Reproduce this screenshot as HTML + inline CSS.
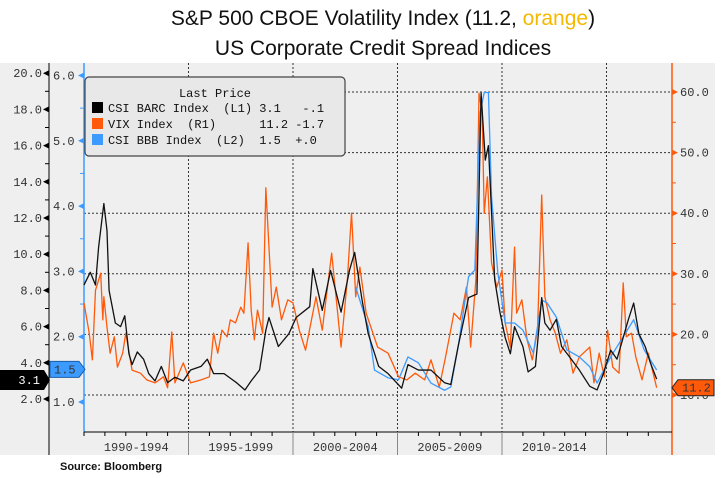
<!DOCTYPE html>
<html><head><meta charset="utf-8"><style>
body{margin:0;background:#fff;width:721px;height:478px;overflow:hidden;font-family:"Liberation Sans",sans-serif}
svg{display:block}
.ax{font-family:"Liberation Mono",monospace;font-size:12px;fill:#333}
.lg{font-family:"Liberation Mono",monospace;font-size:12px;fill:#111}
</style></head><body>
<svg id="chart" width="721" height="478">
<text x="383" y="25" text-anchor="middle" font-size="21" fill="#111">S&amp;P 500 CBOE Volatility Index (11.2, <tspan fill="#f5b800">orange</tspan>)</text>
<text x="383" y="55" text-anchor="middle" font-size="21" fill="#111">US Corporate Credit Spread Indices</text>
<rect x="0" y="63" width="715" height="392" fill="#efefef"/>
<g id="grid"></g>
<g id="axes"></g>
<g id="series"></g>
<g id="legend">
<rect x="85" y="77" width="260" height="79" rx="4" fill="#e8e8e8" stroke="#444" stroke-width="1.2"/>
<text x="215" y="97" text-anchor="middle" class="lg">Last Price</text>
<rect x="92" y="102" width="11" height="11" fill="#000"/>
<text x="108" y="112" class="lg" xml:space="preserve">CSI BARC Index  (L1) 3.1   -.1</text>
<rect x="92" y="118" width="11" height="11" fill="#ff5a0a"/>
<text x="108" y="128" class="lg" xml:space="preserve">VIX Index  (R1)      11.2 -1.7</text>
<rect x="92" y="134" width="11" height="11" fill="#3d9bff"/>
<text x="108" y="144" class="lg" xml:space="preserve">CSI BBB Index  (L2)  1.5  +.0</text>
</g>
<text x="60" y="470" font-size="11" font-weight="bold" fill="#111">Source: Bloomberg</text>
</svg>
<script>
const barcT=[1990.0,1990.3,1990.55,1990.7,1990.95,1991.1,1991.2,1991.5,1991.75,1991.95,1992.15,1992.3,1992.55,1992.85,1993.1,1993.4,1993.7,1994.0,1994.35,1994.75,1995.1,1995.6,1995.9,1996.2,1996.7,1997.3,1997.7,1998.0,1998.4,1998.7,1998.85,1999.3,1999.8,2000.15,2000.8,2000.95,2001.4,2001.8,2002.3,2002.7,2002.95,2003.3,2003.6,2004.1,2004.55,2005.2,2005.5,2006.0,2006.6,2007.25,2007.55,2007.9,2008.4,2008.8,2009.0,2009.2,2009.35,2009.5,2009.65,2009.9,2010.15,2010.4,2010.6,2011.0,2011.25,2011.6,2011.9,2012.05,2012.3,2012.6,2012.85,2013.25,2013.7,2014.2,2014.55,2014.85,2015.2,2015.5,2015.8,2016.05,2016.3,2016.55,2016.85,2017.1,2017.4];
const barcV=[8.3,9.0,8.3,10.4,12.8,11.3,8.0,6.2,6.0,6.6,4.5,3.9,4.6,4.2,3.4,3.0,3.8,2.9,3.2,3.0,3.6,3.8,4.2,3.4,3.4,2.9,2.5,3.0,3.6,5.8,6.5,4.9,5.6,6.5,7.1,9.2,6.9,9.1,6.8,9.1,10.1,7.5,5.6,3.8,3.4,2.6,3.9,3.6,3.6,2.9,2.8,4.9,7.6,7.8,18.9,15.2,16.0,12.3,8.6,6.8,5.4,4.5,6.0,4.9,3.5,3.8,7.6,6.2,5.8,6.4,4.9,4.3,3.6,2.7,2.5,3.4,4.7,4.2,5.4,6.4,7.3,5.6,4.9,4.0,3.1];
const vixT=[1990.0,1990.25,1990.4,1990.55,1990.8,1990.9,1990.95,1991.1,1991.25,1991.45,1991.6,1991.85,1992.0,1992.3,1992.7,1993.0,1993.4,1993.8,1994.0,1994.2,1994.35,1994.75,1995.1,1995.6,1996.0,1996.2,1996.4,1996.6,1996.85,1997.0,1997.25,1997.5,1997.65,1997.85,1998.0,1998.15,1998.3,1998.55,1998.7,1998.85,1999.0,1999.2,1999.45,1999.75,2000.0,2000.3,2000.6,2001.1,2001.4,2001.85,2002.3,2002.6,2002.8,2003.0,2003.2,2003.5,2004.05,2004.55,2005.05,2005.45,2005.85,2006.3,2006.6,2007.0,2007.3,2007.7,2008.0,2008.3,2008.5,2008.75,2008.9,2009.05,2009.15,2009.3,2009.5,2009.75,2010.0,2010.15,2010.4,2010.6,2010.7,2010.95,2011.2,2011.45,2011.7,2011.9,2012.05,2012.3,2012.55,2012.8,2013.1,2013.4,2013.7,2014.2,2014.4,2014.65,2014.9,2015.05,2015.3,2015.6,2015.8,2015.95,2016.2,2016.4,2016.7,2017.0,2017.4];
const vixV=[25.2,20.2,15.8,27.3,30.1,22.4,26.2,21.2,16.9,19.6,14.6,16.9,20.2,14.1,13.6,12.5,12.0,13.0,11.2,20.4,12.0,15.3,12.0,12.5,13.0,20.2,16.9,20.7,19.6,22.4,21.9,24.5,23.5,35.1,24.0,19.1,24.0,20.2,44.2,34.4,24.5,27.8,22.4,25.7,25.2,20.7,17.4,26.2,20.7,33.4,17.9,29.0,40.0,26.2,31.1,23.5,17.9,16.9,13.0,12.5,13.6,12.5,15.8,11.3,16.3,23.5,22.4,27.8,17.9,29.0,59.8,56.5,40.0,46.0,31.8,27.8,30.6,21.9,17.9,34.4,23.5,25.7,19.1,15.8,20.7,43.0,26.2,22.4,20.2,16.9,19.1,13.6,16.3,17.9,12.0,16.9,13.0,20.7,14.6,13.6,28.5,19.6,20.2,16.3,12.5,16.9,11.2];
const bbbT=[2003.0,2003.6,2003.9,2004.55,2005.05,2005.5,2006.0,2006.6,2007.25,2007.55,2007.9,2008.4,2008.7,2008.95,2009.15,2009.35,2009.5,2009.8,2010.15,2010.6,2011.0,2011.5,2011.9,2012.15,2012.6,2013.1,2013.7,2014.2,2014.55,2015.2,2015.8,2016.3,2016.8,2017.4];
const bbbV=[2.76,2.15,1.49,1.37,1.34,1.69,1.60,1.29,1.18,1.23,1.84,2.92,3.02,5.43,5.74,5.74,4.14,2.98,2.21,2.21,2.10,1.75,2.56,2.52,2.30,1.80,1.69,1.54,1.29,1.69,2.00,2.26,1.80,1.49];
const periodLabels=["1990-1994","1995-1999","2000-2004","2005-2009","2010-2014"];
const periodStarts=[1990,1995,2000,2005,2010,2015];
const l1Ticks=[2,4,6,8,10,12,14,16,18,20];
const l2Ticks=[1,2,3,4,5,6];
const rTicks=[10,20,30,40,50,60];

const X=t=>84+(t-1990)*20.9;
const YL1=v=>399-(v-2)*18.1;
const YL2=v=>402-(v-1)*65.3;
const YR=v=>395-(v-10)*6.06;
const NS="http://www.w3.org/2000/svg";
function mk(tag,attrs,parent){const e=document.createElementNS(NS,tag);for(const k in attrs)e.setAttribute(k,attrs[k]);parent.appendChild(e);return e;}
const grid=document.getElementById('grid'),axes=document.getElementById('axes'),ser=document.getElementById('series');

rTicks.forEach(v=>{const l=mk('line',{x1:84,x2:672,y1:YR(v),y2:YR(v),stroke:'#333','stroke-dasharray':'2,2'},grid);

});
periodStarts.slice(1).forEach(t=>{const l=mk('line',{x1:X(t),x2:X(t),y1:63,y2:432,stroke:'#333','stroke-dasharray':'2,2'},grid);

});

// left outer axis
mk('line',{x1:49,x2:49,y1:63,y2:455,stroke:'#000'},axes);
l1Ticks.forEach(v=>{const y=YL1(v);
mk('polygon',{points:`49,${y-3} 49,${y+3} 43,${y}`,fill:'#000'},axes);
if(v<20)mk('line',{x1:45,x2:49,y1:YL1(v+1),y2:YL1(v+1),stroke:'#000'},axes);
const t=mk('text',{x:42,y:y+4,'text-anchor':'end',class:'ax'},axes);t.textContent=v.toFixed(1);

});
// inner blue axis
mk('line',{x1:84,x2:84,y1:63,y2:432,stroke:'#3d9bff','stroke-width':1.5},axes);
l2Ticks.forEach(v=>{const y=YL2(v);
mk('polygon',{points:`84,${y-3} 84,${y+3} 78,${y}`,fill:'#3d9bff'},axes);
if(v<6)mk('line',{x1:80,x2:84,y1:YL2(v+0.5),y2:YL2(v+0.5),stroke:'#3d9bff'},axes);
const t=mk('text',{x:53,y:y+4,class:'ax'},axes);t.textContent=v.toFixed(1);

});
// right orange axis
mk('line',{x1:672,x2:672,y1:63,y2:455,stroke:'#ff5a0a','stroke-width':1.5},axes);
rTicks.forEach(v=>{const y=YR(v);
mk('polygon',{points:`672,${y-3} 672,${y+3} 678,${y}`,fill:'#ff5a0a'},axes);
if(v<60)mk('line',{x1:672,x2:676,y1:YR(v+5),y2:YR(v+5),stroke:'#ff5a0a'},axes);
const t=mk('text',{x:680,y:y+4,class:'ax'},axes);t.textContent=v.toFixed(1);

});
// bottom axis
mk('line',{x1:84,x2:672,y1:432,y2:432,stroke:'#000'},axes);
for(let yr=1990;yr<=2017;yr++)mk('line',{x1:X(yr),x2:X(yr),y1:432,y2:436,stroke:'#000'},axes);
periodStarts.slice(1).forEach(t=>mk('line',{x1:X(t),x2:X(t),y1:432,y2:455,stroke:'#888'},axes));
periodLabels.forEach((s,i)=>{const t=mk('text',{x:(X(periodStarts[i])+X(periodStarts[i+1]))/2,y:451,'text-anchor':'middle',class:'ax'},axes);t.textContent=s;

});

function line(ts,vs,yf,color,name){const p=mk('polyline',{points:ts.map((t,i)=>X(t)+','+yf(vs[i])).join(' '),fill:'none',stroke:color,'stroke-width':1.3,'stroke-linejoin':'round'},ser);

}
line(vixT,vixV,YR,'#ff5a0a','vix-line');
line(bbbT,bbbV,YL2,'#3d9bff','bbb-line');
line(barcT,barcV,YL1,'#111','barc-line');

// value markers
const m1=mk('polygon',{points:'0,370 44,370 50,380 44,390 0,390',fill:'#000'},axes);


const t1=mk('text',{x:40,y:384,'text-anchor':'end',class:'ax',fill:'#fff'},axes);t1.textContent='3.1';t1.style.fill='#fff';
const y15=YL2(1.5);
const m2=mk('polygon',{points:`50,${y15-8} 79,${y15-8} 85,${y15} 79,${y15+8} 50,${y15+8}`,fill:'#3d9bff',stroke:'#1a5fa8'},axes);


const t2=mk('text',{x:54,y:y15+4,class:'ax'},axes);t2.textContent='1.5';
const y11=YR(11.2);
const m3=mk('polygon',{points:`672,${y11} 678,${y11-8} 714,${y11-8} 714,${y11+8} 678,${y11+8}`,fill:'#ff5a0a',stroke:'#222'},axes);


const t3=mk('text',{x:682,y:y11+4,class:'ax'},axes);t3.textContent='11.2';
</script>
</body></html>
